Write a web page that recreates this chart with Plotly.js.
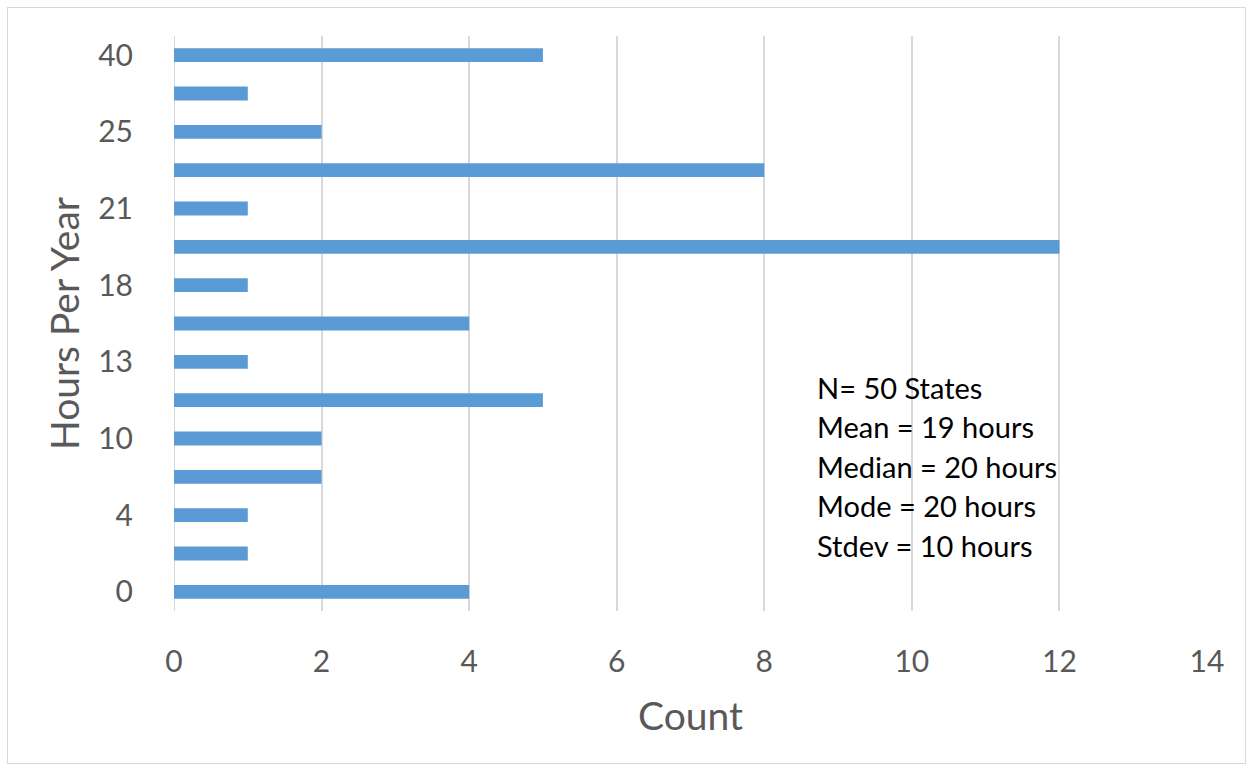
<!DOCTYPE html>
<html>
<head>
<meta charset="utf-8">
<script src="https://cdn.plot.ly/plotly-3.0.1.min.js"></script>
<style>
  html, body { margin: 0; padding: 0; background: #fff; }
  #chart { position: absolute; left: 0; top: 0; width: 1253px; height: 771px; }
  #frame { position: absolute; left: 7px; top: 7px; width: 1237px; height: 755px; border: 1px solid #d9d9d9; pointer-events: none; }
</style>
</head>
<body>
<div id="chart"></div>
<div id="frame"></div>
<script>
// Hours-per-year categories (bottom to top) and state counts
const hours = ["0", "3", "4", "8", "10", "12", "13", "15", "18", "20", "21", "24", "25", "30", "40"];
const counts = [4, 1, 1, 2, 2, 5, 1, 4, 1, 12, 1, 8, 2, 1, 5];
const shownTicks = ["0", "4", "10", "13", "18", "21", "25", "40"];
const xTicks = [0, 2, 4, 6, 8, 10, 12, 14];
const statLines = ["N= 50 States", "Mean = 19 hours", "Median = 20 hours", "Mode = 20 hours", "Stdev = 10 hours"];

const font = "Lato, 'Open Sans', sans-serif";

const trace = {
  type: "bar",
  orientation: "h",
  x: counts,
  y: hours,
  width: 0.36,
  marker: { color: "#5b9bd5" },
  hoverinfo: "x+y"
};

const annotations = statLines.map((t, i) => ({
  xref: "x", yref: "paper",
  x: 8.69, y: 0.389 - i * 0.0687,
  xanchor: "left", yanchor: "middle",
  text: t, showarrow: false,
  font: { family: font, size: 29, color: "#000" }
}));

const layout = {
  width: 1253, height: 771,
  margin: { l: 174, r: 46, t: 36, b: 160 },
  paper_bgcolor: "#fff", plot_bgcolor: "#fff",
  showlegend: false,
  font: { family: font, color: "#595959" },
  xaxis: {
    range: [0, 14],
    tickvals: xTicks,
    showgrid: true, gridcolor: "#d9d9d9", gridwidth: 2,
    zeroline: false, showline: false,
    ticks: "outside", ticklen: 24, tickcolor: "rgba(0,0,0,0)",
    tickfont: { family: font, size: 30, color: "#595959" },
    title: { text: "Count", font: { family: font, size: 39, color: "#595959" }, standoff: 25 },
    fixedrange: true
  },
  yaxis: {
    type: "category",
    categoryorder: "array", categoryarray: hours,
    tickvals: shownTicks, ticktext: shownTicks,
    showgrid: false, zeroline: false, showline: false,
    ticks: "outside", ticklen: 34, tickcolor: "rgba(0,0,0,0)",
    tickfont: { family: font, size: 30, color: "#595959" },
    title: { text: "Hours Per Year", font: { family: font, size: 39, color: "#595959" }, standoff: 6 },
    fixedrange: true
  },
  shapes: [{
    type: "line", xref: "x", yref: "paper", x0: 0, x1: 0, y0: 0, y1: 1,
    line: { color: "#d9d9d9", width: 2 }, layer: "below"
  }],
  annotations: annotations
};

Plotly.newPlot("chart", [trace], layout, { displayModeBar: false, staticPlot: true });
</script>
</body>
</html>
